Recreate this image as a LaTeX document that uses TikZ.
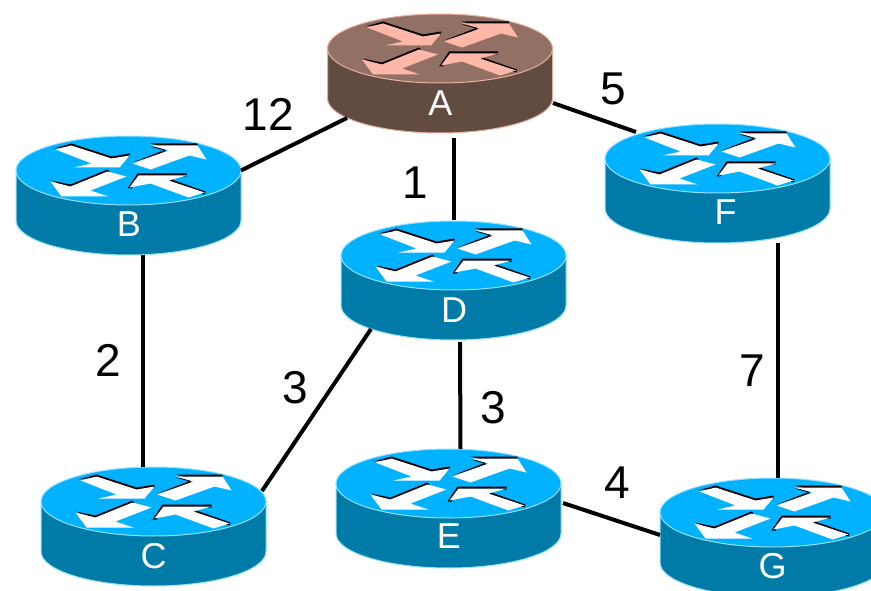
\documentclass[tikz,border=0pt]{standalone}
\usepackage{fontspec}
\setmainfont{Liberation Sans}
\definecolor{btop}{RGB}{0,178,255}
\definecolor{bside}{RGB}{0,123,168}
\definecolor{bline}{RGB}{150,225,255}
\definecolor{rtop}{RGB}{146,112,100}
\definecolor{rside}{RGB}{98,76,66}
\definecolor{rline}{RGB}{232,176,160}
\definecolor{rarrow}{RGB}{255,184,168}
\tikzset{
  link/.style={line width=4pt,black},
  weight/.style={inner sep=0pt,font=\fontsize{46}{46}\selectfont,black},
  routerlabel/.style={inner sep=0pt,font=\fontsize{36}{36}\selectfont,white},
  routerbody/.style={minimum width=225pt,minimum height=118pt,inner sep=0pt,outer sep=0pt},
}
% #1 name, #2 x, #3 y, #4 label dx, #5 top, #6 side, #7 outline, #8 arrows
\newcommand{\routerpic}[8]{%
  \begin{scope}[shift={(#2,#3)}]
    \draw[#7,line width=1pt,fill=#6] (-112.5,0) -- (-112.5,50) arc (180:0:112.5 and 34.5) -- (112.5,0) -- cycle;
    \draw[#7,line width=1pt,fill=#5] (0,0) ellipse (112.5 and 34.5);
    \fill[black] (-75,-22) -- (-57,-27) -- (-17,-14) -- (1,-17) -- (1,-14) -- (-17,-11) -- (-57,-24) -- cycle;
    \fill[#8] (-73,-21) -- (-57,-25) -- (-17,-12) -- (1,-15) -- (-9,-3) -- (-55,-3) -- (-37,-7) -- cycle;
    \fill[black] (4,-8) -- (40,-22) -- (22,-27) -- (69,-27) -- (69,-24) -- (22,-24) -- (40,-19) -- cycle;
    \fill[#8] (4,-7) -- (40,-20) -- (22,-25) -- (69,-25) -- (78,-11) -- (61,-15) -- (22,-1) -- cycle;
    \fill[black] (-78,10) -- (-58,14) -- (-21,-1) -- (-19,1) -- (-58,18) -- cycle;
    \fill[#8] (-78,11) -- (-58,16) -- (-21,1) -- (-2,6) -- (-38,20) -- (-20,26) -- (-67,26) -- cycle;
    \fill[black] (-1,18) -- (9,3) -- (58,3) -- (58,6) -- (12,6) -- (3,18) -- cycle;
    \fill[black] (40,8) -- (77,21) -- (76,24) -- (40,12) -- cycle;
    \fill[#8] (1,17) -- (10,5) -- (58,5) -- (40,10) -- (76,22) -- (60,27) -- (22,13) -- cycle;
  \end{scope}
  \node[routerbody] (#1) at (#2,#3+25) {};
}
\begin{document}
\begin{tikzpicture}[x=1pt,y=1pt,yscale=-1]
\useasboundingbox (0,0) rectangle (871,591);
\clip (0,0) rectangle (871,591);
\routerpic{A}{440}{48.5}{0}{rtop}{rside}{rline}{rarrow}
\routerpic{B}{128.5}{170.5}{0}{btop}{bside}{bline}{white}
\routerpic{C}{153.5}{501.5}{0}{btop}{bside}{bline}{white}
\routerpic{D}{453.5}{255.5}{0}{btop}{bside}{bline}{white}
\routerpic{E}{448.5}{483.5}{0}{btop}{bside}{bline}{white}
\routerpic{F}{717.5}{158.5}{0}{btop}{bside}{bline}{white}
\routerpic{G}{772.5}{512.5}{0}{btop}{bside}{bline}{white}
\node[routerlabel] (la) at ([shift={(0.5,29.5)}]A.center) {A};
\node[routerlabel] (lb) at ([shift={(0.5,29)}]B.center) {B};
\node[routerlabel] (lc) at ([shift={(0,29.5)}]C.center) {C};
\node[routerlabel] (ld) at ([shift={(0.5,29.5)}]D.center) {D};
\node[routerlabel] (le) at ([shift={(0.5,28)}]E.center) {E};
\node[routerlabel] (lf) at ([shift={(8,28.5)}]F.center) {F};
\node[routerlabel] (lg) at ([shift={(0,29)}]G.center) {G};
% links
\draw[link] ([shift={(-93,44.5)}]A.center) -- ([shift={(112.5,-25)}]B.center);
\draw[link] ([shift={(113,29.5)}]A.center) -- ([shift={(-81.5,-51.5)}]F.center);
\draw[link] ([shift={(13.5,64.5)}]A.center) -- ([shift={(0,-60)}]D.center);
\draw[link] ([shift={(14.5,59)}]B.center) -- ([shift={(-10.5,-59.5)}]C.center);
\draw[link] ([shift={(-82.5,48.5)}]D.center) -- ([shift={(108.5,-35.5)}]C.center);
\draw[link] ([shift={(6.5,61.5)}]D.center) -- ([shift={(12,-59.5)}]E.center);
\draw[link] ([shift={(60.5,59.5)}]F.center) -- ([shift={(5.5,-59.5)}]G.center);
\draw[link] ([shift={(114.5,-5.5)}]E.center) -- ([shift={(-112.5,-2.5)}]G.center);
% weights
\node[weight] (w12) at (268.5,114) {12};
\node[weight] (w5) at (613.5,89) {5};
\node[weight] (w1) at (415.5,183) {1};
\node[weight] (w2) at (108.5,360) {2};
\node[weight] (w3a) at (295.5,388) {3};
\node[weight] (w3b) at (493.5,408) {3};
\node[weight] (w7) at (752.5,371) {7};
\node[weight] (w4) at (617.5,483) {4};
\end{tikzpicture}
\end{document}
